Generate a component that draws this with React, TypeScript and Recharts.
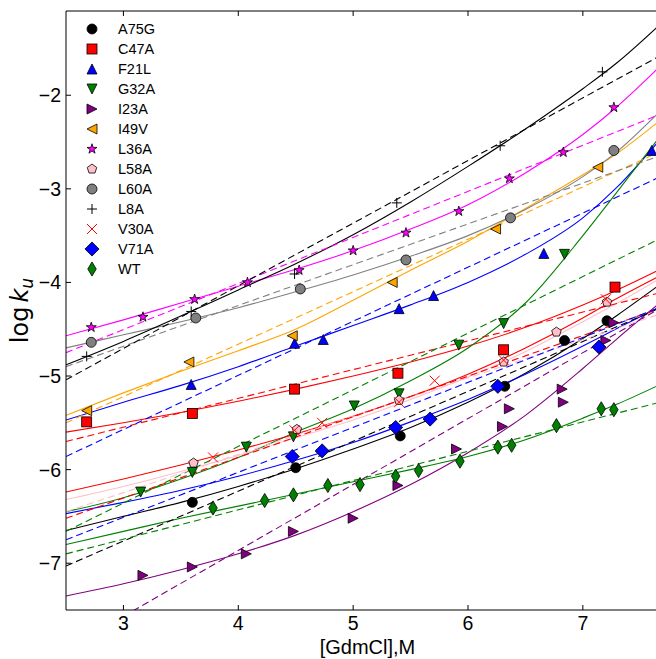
import React from 'react';
import { ComposedChart, Line, Scatter, XAxis, YAxis, Legend, ReferenceLine } from 'recharts';

const FIT_X = [2.5, 3.0, 3.5, 4.0, 4.5, 5.0, 5.5, 6.0, 6.5, 7.0, 7.3, 7.64];
const LIN_X = [2.5, 7.64];
const X_TICKS = [3, 4, 5, 6, 7];
const Y_TICKS = [-7, -6, -5, -4, -3, -2];

const A75G_X = [3.60, 4.50, 5.41, 6.32, 6.84, 7.21];
const A75G_Y = [-6.35, -5.98, -5.64, -5.11, -4.62, -4.41];
const A75G_FIT = [-6.65, -6.50, -6.35, -6.18, -5.99, -5.78, -5.55, -5.28, -4.97, -4.60, -4.35, -4.05];
const A75G_LIN = [-7.03, -4.29];

const C47A_X = [2.68, 3.60, 4.49, 5.39, 6.31, 7.28];
const C47A_Y = [-5.49, -5.40, -5.14, -4.97, -4.72, -4.05];
const C47A_FIT = [-5.60, -5.50, -5.39, -5.27, -5.14, -5.00, -4.85, -4.68, -4.48, -4.24, -4.08, -3.88];
const C47A_LIN = [-5.70, -4.12];

const F21L_X = [3.59, 4.49, 4.74, 5.40, 5.70, 6.66, 7.60];
const F21L_Y = [-5.09, -4.65, -4.61, -4.28, -4.14, -3.69, -2.59];
const F21L_FIT = [-5.47, -5.28, -5.10, -4.90, -4.68, -4.46, -4.24, -4.00, -3.70, -3.31, -2.98, -2.52];
const F21L_LIN = [-5.86, -2.89];

const G32A_X = [3.15, 3.60, 4.07, 4.48, 5.01, 5.40, 5.92, 6.31, 6.84];
const G32A_Y = [-6.24, -6.03, -5.76, -5.65, -5.32, -5.19, -4.67, -4.44, -3.70];
const G32A_FIT = [-6.45, -6.30, -6.10, -5.87, -5.60, -5.35, -5.05, -4.70, -4.22, -3.50, -3.03, -2.49];
const G32A_LIN = [-6.66, -3.55];

const I23A_X = [3.17, 3.60, 4.07, 4.48, 5.00, 5.39, 5.90, 6.30, 6.36, 6.82, 6.83, 7.20, 7.27];
const I23A_Y = [-7.13, -7.04, -6.90, -6.66, -6.52, -6.17, -5.78, -5.54, -5.35, -5.14, -5.28, -4.62, -4.43];
const I23A_FIT = [-7.35, -7.22, -7.07, -6.90, -6.70, -6.45, -6.16, -5.82, -5.42, -4.92, -4.60, -4.25];
const I23A_LIN = [-7.92, -4.30];

const I49V_X = [2.68, 3.57, 4.47, 5.34, 6.24, 7.13];
const I49V_Y = [-5.37, -4.85, -4.57, -4.00, -3.43, -2.77];
const I49V_FIT = [-5.42, -5.18, -4.95, -4.73, -4.50, -4.19, -3.87, -3.56, -3.21, -2.85, -2.62, -2.30];
const I49V_LIN = [-5.50, -2.62];

const L36A_X = [2.72, 3.17, 3.62, 4.08, 4.53, 5.00, 5.46, 5.92, 6.36, 6.83, 7.27];
const L36A_Y = [-4.48, -4.37, -4.18, -4.00, -3.87, -3.66, -3.47, -3.24, -2.89, -2.61, -2.13];
const L36A_FIT = [-4.57, -4.40, -4.22, -4.04, -3.86, -3.66, -3.43, -3.17, -2.83, -2.42, -2.12, -1.73];
const L36A_LIN = [-4.75, -2.22];

const L58A_X = [3.61, 4.51, 5.40, 6.31, 6.77, 7.21];
const L58A_Y = [-5.93, -5.57, -5.26, -4.85, -4.53, -4.21];
const L58A_FIT = [-6.32, -6.18, -6.02, -5.85, -5.66, -5.47, -5.25, -5.01, -4.74, -4.42, -4.22, -3.98];
const L58A_LIN = [-6.45, -4.35];

const L60A_X = [2.72, 3.63, 4.54, 5.46, 6.37, 7.27];
const L60A_Y = [-4.64, -4.38, -4.07, -3.76, -3.31, -2.59];
const L60A_FIT = [-4.70, -4.56, -4.42, -4.27, -4.10, -3.92, -3.72, -3.50, -3.22, -2.87, -2.60, -2.21];
const L60A_LIN = [-4.90, -2.66];

const L8A_X = [2.68, 3.59, 4.49, 5.38, 6.28, 7.17];
const L8A_Y = [-4.79, -4.31, -3.91, -3.15, -2.54, -1.75];
const L8A_FIT = [-4.88, -4.63, -4.36, -4.08, -3.80, -3.49, -3.14, -2.76, -2.36, -1.93, -1.65, -1.28];
const L8A_LIN = [-5.04, -1.60];

const V30A_X = [3.78, 4.49, 4.73, 5.40, 5.71, 6.31, 7.20];
const V30A_Y = [-5.87, -5.58, -5.50, -5.28, -5.05, -4.83, -4.18];
const V30A_FIT = [-6.24, -6.10, -5.95, -5.79, -5.62, -5.43, -5.22, -4.98, -4.70, -4.38, -4.17, -3.95];
const V30A_LIN = [-6.52, -4.29];

const V71A_X = [4.47, 4.73, 5.37, 5.67, 6.26, 7.14];
const V71A_Y = [-5.86, -5.80, -5.55, -5.46, -5.11, -4.69];
const V71A_FIT = [-6.47, -6.35, -6.22, -6.07, -5.90, -5.71, -5.49, -5.25, -4.98, -4.68, -4.49, -4.28];
const V71A_LIN = [-6.75, -4.28];

const WT_X = [3.78, 4.23, 4.48, 4.78, 5.06, 5.37, 5.57, 5.93, 6.26, 6.38, 6.77, 7.16, 7.27];
const WT_Y = [-6.41, -6.33, -6.27, -6.17, -6.16, -6.07, -6.01, -5.91, -5.76, -5.74, -5.53, -5.35, -5.36];
const WT_FIT = [-6.80, -6.66, -6.52, -6.39, -6.26, -6.13, -6.00, -5.86, -5.68, -5.45, -5.30, -5.11];
const WT_LIN = [-6.90, -5.29];

const X_DOMAIN = [2.5, 7.75];
const Y_DOMAIN = [-7.5, -1.1];

const FONT = '"Liberation Sans", Arial, Helvetica, sans-serif';
const PLOT_H = 599;

const pairs = (xs: number[], ys: number[]) => xs.map((x, i) => ({ x, y: ys[i] }));

const SERIES = [
  { name: 'A75G', color: '#000000', marker: 'o', px: A75G_X, py: A75G_Y, fit: A75G_FIT, lin: A75G_LIN },
  { name: 'C47A', color: '#ff0000', marker: 's', px: C47A_X, py: C47A_Y, fit: C47A_FIT, lin: C47A_LIN },
  { name: 'F21L', color: '#0000ff', marker: '^', px: F21L_X, py: F21L_Y, fit: F21L_FIT, lin: F21L_LIN },
  { name: 'G32A', color: '#008000', marker: 'v', px: G32A_X, py: G32A_Y, fit: G32A_FIT, lin: G32A_LIN },
  { name: 'I23A', color: '#800080', marker: '>', px: I23A_X, py: I23A_Y, fit: I23A_FIT, lin: I23A_LIN },
  { name: 'I49V', color: '#ffa500', marker: '<', px: I49V_X, py: I49V_Y, fit: I49V_FIT, lin: I49V_LIN },
  { name: 'L36A', color: '#ff00ff', marker: '*', px: L36A_X, py: L36A_Y, fit: L36A_FIT, lin: L36A_LIN },
  { name: 'L58A', color: '#ffc0cb', marker: 'p', px: L58A_X, py: L58A_Y, fit: L58A_FIT, lin: L58A_LIN },
  { name: 'L60A', color: '#808080', marker: 'o', px: L60A_X, py: L60A_Y, fit: L60A_FIT, lin: L60A_LIN },
  { name: 'L8A', color: '#000000', marker: '+', px: L8A_X, py: L8A_Y, fit: L8A_FIT, lin: L8A_LIN },
  { name: 'V30A', color: '#ff0000', marker: 'x', px: V30A_X, py: V30A_Y, fit: V30A_FIT, lin: V30A_LIN },
  { name: 'V71A', color: '#0000ff', marker: 'D', px: V71A_X, py: V71A_Y, fit: V71A_FIT, lin: V71A_LIN },
  { name: 'WT', color: '#008000', marker: 'd', px: WT_X, py: WT_Y, fit: WT_FIT, lin: WT_LIN },
];

function Marker({ type, cx, cy, color }: { type: string; cx: number; cy: number; color: string }) {
  const h = 5;
  const ec = '#000';
  const ew = 0.8;
  const poly = (pts: number[][]) => (
    <polygon points={pts.map((p) => `${cx + p[0]},${cy + p[1]}`).join(' ')} fill={color} stroke={ec} strokeWidth={ew} />
  );
  switch (type) {
    case 'o':
      return <circle cx={cx} cy={cy} r={h} fill={color} stroke={ec} strokeWidth={ew} />;
    case 's':
      return <rect x={cx - h} y={cy - h} width={2 * h} height={2 * h} fill={color} stroke={ec} strokeWidth={ew} />;
    case '^':
      return poly([[0, -h], [-h, h], [h, h]]);
    case 'v':
      return poly([[0, h], [-h, -h], [h, -h]]);
    case '>':
      return poly([[h, 0], [-h, -h], [-h, h]]);
    case '<':
      return poly([[-h, 0], [h, -h], [h, h]]);
    case '*': {
      const pts: number[][] = [];
      for (let i = 0; i < 10; i++) {
        const r = i % 2 === 0 ? h * 1.05 : h * 1.05 * 0.382;
        const a = -Math.PI / 2 + (i * Math.PI) / 5;
        pts.push([r * Math.cos(a), r * Math.sin(a)]);
      }
      return poly(pts);
    }
    case 'p': {
      const pts: number[][] = [];
      for (let i = 0; i < 5; i++) {
        const a = -Math.PI / 2 + (i * 2 * Math.PI) / 5;
        pts.push([h * Math.cos(a), h * Math.sin(a)]);
      }
      return poly(pts);
    }
    case '+':
      return (
        <g stroke={color} strokeWidth={1}>
          <line x1={cx - h} y1={cy} x2={cx + h} y2={cy} />
          <line x1={cx} y1={cy - h} x2={cx} y2={cy + h} />
        </g>
      );
    case 'x':
      return (
        <g stroke={color} strokeWidth={1}>
          <line x1={cx - h} y1={cy - h} x2={cx + h} y2={cy + h} />
          <line x1={cx - h} y1={cy + h} x2={cx + h} y2={cy - h} />
        </g>
      );
    case 'D': {
      const d = h * 1.414;
      return poly([[0, -d], [d, 0], [0, d], [-d, 0]]);
    }
    case 'd': {
      const d = h * 1.414;
      const w = d * 0.6;
      return poly([[0, -d], [w, 0], [0, d], [-w, 0]]);
    }
    default:
      return null;
  }
}

const XTick = (props: any) => {
  const { x, y, payload } = props;
  const top = y - PLOT_H;
  return (
    <g>
      <line x1={x} y1={y} x2={x} y2={y - 5} stroke="#000" strokeWidth={1} />
      <line x1={x} y1={top} x2={x} y2={top + 5} stroke="#000" strokeWidth={1} />
      <text x={x} y={y + 20} textAnchor="middle" fontSize={19.5} fontFamily={FONT} fill="#000">
        {payload.value}
      </text>
    </g>
  );
};

const YTick = (props: any) => {
  const { x, y, payload } = props;
  const v = payload.value;
  const label = v < 0 ? `\u2212${Math.abs(v)}` : `${v}`;
  return (
    <g>
      <line x1={x} y1={y} x2={x + 5} y2={y} stroke="#000" strokeWidth={1} />
      <text x={x - 5} y={y + 7} textAnchor="end" fontSize={19.5} fontFamily={FONT} fill="#000">
        {label}
      </text>
    </g>
  );
};

const XLabel = (props: any) => {
  const vb = props.viewBox || { x: 66, width: 603 };
  const cx = vb.x + vb.width / 2;
  return (
    <text x={cx} y={654} textAnchor="middle" fontSize={20} fontFamily={FONT} fill="#000">
      [GdmCl],M
    </text>
  );
};

const YLabel = (props: any) => {
  const vb = props.viewBox || { y: 11, height: 599 };
  const cy = vb.y + vb.height / 2;
  return (
    <text
      x={0}
      y={0}
      transform={`translate(28, ${cy}) rotate(-90)`}
      textAnchor="middle"
      fontSize={24}
      fontFamily='"DejaVu Sans", sans-serif'
      fill="#000"
    >
      log
      <tspan fontStyle="italic" dx={4}>k</tspan>
      <tspan fontStyle="italic" fontSize={17} dy={5}>u</tspan>
    </text>
  );
};

const LegendBox = () => (
  <div style={{ fontFamily: FONT, fontSize: 14.5, color: '#000' }}>
    {SERIES.map((s) => (
      <div key={s.name} style={{ display: 'flex', alignItems: 'center', height: 20 }}>
        <svg width={24} height={20} style={{ display: 'block' }}>
          <Marker type={s.marker} cx={12} cy={10} color={s.color} />
        </svg>
        <span style={{ marginLeft: 14, lineHeight: '20px' }}>{s.name}</span>
      </div>
    ))}
  </div>
);

export default function App() {
  return (
    <div style={{ position: 'fixed', left: 0, top: 0, width: 656, height: 659, overflow: 'hidden', background: '#fff' }}>
      <ComposedChart width={700} height={659} margin={{ top: 11, right: 31, bottom: 0, left: 0 }}>
        <XAxis
          type="number"
          dataKey="x"
          domain={X_DOMAIN}
          ticks={X_TICKS}
          allowDataOverflow
          height={49}
          tickSize={0}
          tickMargin={0}
          tickLine={false}
          tick={<XTick />}
          axisLine={{ stroke: '#000', strokeWidth: 1 }}
          label={<XLabel />}
        />
        <YAxis
          type="number"
          dataKey="y"
          domain={Y_DOMAIN}
          ticks={Y_TICKS}
          allowDataOverflow
          width={66}
          tickSize={0}
          tickMargin={0}
          tickLine={false}
          tick={<YTick />}
          axisLine={{ stroke: '#000', strokeWidth: 1 }}
          label={<YLabel />}
        />
        <ReferenceLine y={Y_DOMAIN[1]} stroke="#000" strokeWidth={1} ifOverflow="visible" />
        <Legend
          layout="vertical"
          align="center"
          verticalAlign="middle"
          content={<LegendBox />}
          wrapperStyle={{ left: 80, top: 19, width: 140, height: 262 }}
        />
        {SERIES.map((s) => (
          <Line
            key={s.name + '-fit'}
            data={pairs(FIT_X, s.fit)}
            dataKey="y"
            type="monotone"
            stroke={s.color}
            strokeWidth={1.1}
            dot={false}
            activeDot={false}
            isAnimationActive={false}
            legendType="none"
          />
        ))}
        {SERIES.map((s) => (
          <Line
            key={s.name + '-lin'}
            data={pairs(LIN_X, s.lin)}
            dataKey="y"
            type="linear"
            stroke={s.color}
            strokeWidth={1.1}
            strokeDasharray="7 4"
            dot={false}
            activeDot={false}
            isAnimationActive={false}
            legendType="none"
          />
        ))}
        {SERIES.map((s) => (
          <Scatter
            key={s.name + '-pts'}
            name={s.name}
            data={pairs(s.px, s.py)}
            dataKey="y"
            isAnimationActive={false}
            shape={(p: any) => <Marker type={s.marker} cx={p.cx} cy={p.cy} color={s.color} />}
          />
        ))}
      </ComposedChart>
    </div>
  );
}
